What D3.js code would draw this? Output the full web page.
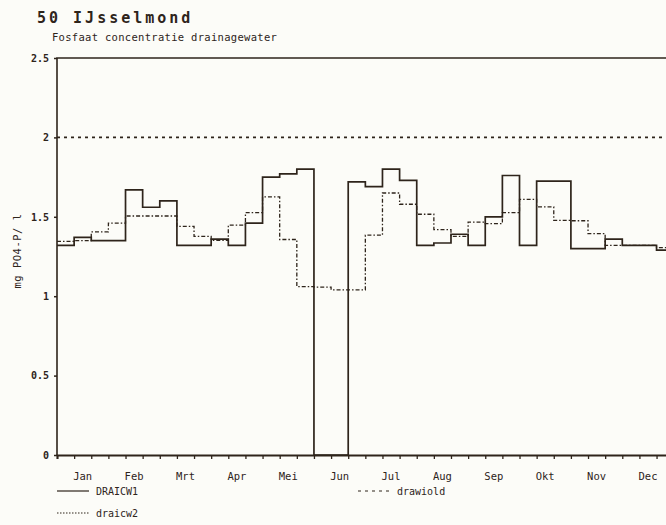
<!DOCTYPE html>
<html>
<head>
<meta charset="utf-8">
<script src="https://cdn.jsdelivr.net/npm/d3@7"></script>
<style>
  body { margin: 0; background: #fcfcf8; }
  svg { display: block; }
  text { fill: #2e241b; font-family: "DejaVu Sans Mono", monospace; }
</style>
</head>
<body>
<svg id="chart" width="666" height="525"></svg>
<script>
// month labels, one per 3 decades
const months = ["Jan", "Feb", "Mrt", "Apr", "Mei", "Jun", "Jul", "Aug", "Sep", "Okt", "Nov", "Dec"];
const yTicks = [0, 0.5, 1, 1.5, 2, 2.5];

// decade (10-day) values, mg PO4-P / l
const draicw1 = [1.32, 1.37, 1.35, 1.35, 1.67, 1.56, 1.60, 1.32, 1.32, 1.36, 1.32, 1.46,
                 1.75, 1.77, 1.80, 0, 0, 1.72, 1.69, 1.80, 1.73, 1.32, 1.335, 1.39,
                 1.32, 1.50, 1.76, 1.32, 1.725, 1.725, 1.30, 1.30, 1.36, 1.32, 1.32, 1.29];
const draicw2 = [1.345, 1.35, 1.405, 1.46, 1.505, 1.505, 1.505, 1.44, 1.377, 1.352, 1.447, 1.526,
                 1.625, 1.357, 1.06, 1.057, 1.04, 1.04, 1.384, 1.65, 1.579, 1.516, 1.419, 1.377,
                 1.467, 1.457, 1.526, 1.61, 1.562, 1.478, 1.475, 1.394, 1.32, 1.32, 1.32, 1.306];
const drawiold = 2.0;

const margin = { top: 58, left: 57, bottom: 70 };
const svg = d3.select("#chart");
const plotRight = 57 + 36 * 17.13;

const x = d3.scaleLinear().domain([0, 36]).range([margin.left, plotRight]);
const y = d3.scaleLinear().domain([0, 2.5]).range([455, margin.top]);

const ink = "#2e241b";

// titles
svg.append("text").attr("x", 37).attr("y", 23)
    .style("font-size", "15px").style("font-weight", "bold")
    .style("letter-spacing", "3px")
    .text("50 IJsselmond");
svg.append("text").attr("x", 52).attr("y", 41)
    .style("font-size", "10.5px")
    .style("letter-spacing", "0.3px")
    .text("Fosfaat concentratie drainagewater");

// frame
svg.append("path")
    .attr("d", "M" + x(0) + "," + y(0) + "V" + y(2.5) + "H" + x(36) + "V" + y(0))
    .attr("fill", "none").attr("stroke", ink).attr("stroke-width", 1.6);

// y axis ticks + labels
const yAxis = d3.axisLeft(y).tickValues(yTicks).tickSize(3)
    .tickFormat(d => d === 0 ? "0" : String(d));
const gy = svg.append("g").attr("transform", "translate(" + x(0) + ",0)").call(yAxis);
gy.select(".domain").remove();
gy.selectAll("line").attr("stroke", ink).attr("stroke-width", 1.5);
gy.selectAll("text").style("font-size", "10px").style("font-weight", "bold")
    .style("font-family", "DejaVu Sans Mono, monospace").attr("fill", ink).attr("dx", "-2");

// y axis title
svg.append("text")
    .attr("transform", "translate(21,251) rotate(-90)")
    .attr("text-anchor", "middle")
    .style("font-size", "10.5px")
    .style("letter-spacing", "0.5px")
    .text("mg PO4-P/ l");

// x axis: decade ticks
const gx = svg.append("g").attr("transform", "translate(0," + y(0) + ")")
    .call(d3.axisBottom(x).tickValues(d3.range(0, 37)).tickSize(4).tickFormat(""));
gx.select(".domain").attr("stroke", ink).attr("stroke-width", 2);
gx.selectAll("line").attr("stroke", ink).attr("stroke-width", 1.3);

// month labels
svg.append("g").selectAll("text").data(months).join("text")
    .attr("x", (d, i) => x(i * 3 + 1.5))
    .attr("y", 480)
    .attr("text-anchor", "middle")
    .style("font-size", "10.5px")
    .text(d => d);

// step lines
const step = d3.line()
    .x(d => x(d[0])).y(d => y(d[1]))
    .curve(d3.curveStepAfter);
const pts = arr => arr.map((v, i) => [i, v]).concat([[36, arr[35]]]);

svg.append("path").datum([[0, drawiold], [36, drawiold]])
    .attr("d", step).attr("fill", "none")
    .attr("stroke", ink).attr("stroke-width", 1.8).attr("stroke-dasharray", "3,4");

svg.append("path").datum(pts(draicw2))
    .attr("d", step).attr("fill", "none")
    .attr("stroke", ink).attr("stroke-width", 1.3).attr("stroke-dasharray", "4,2,1.5,2");

svg.append("path").datum(pts(draicw1))
    .attr("d", step).attr("fill", "none")
    .attr("stroke", ink).attr("stroke-width", 1.7);

// legend
const legend = [
    { name: "DRAICW1", dash: null, lx: 57, ly: 491 },
    { name: "drawiold", dash: "3,4", lx: 358, ly: 491 },
    { name: "draicw2", dash: "1.5,1.5", lx: 57, ly: 513 }
];
const lg = svg.append("g").selectAll("g").data(legend).join("g")
    .attr("transform", d => "translate(" + d.lx + "," + d.ly + ")");
lg.append("line").attr("x1", 0).attr("x2", 32).attr("y1", 0).attr("y2", 0)
    .attr("stroke", ink).attr("stroke-width", 1.2)
    .attr("stroke-dasharray", d => d.dash);
lg.append("text").attr("x", 39).attr("y", 4)
    .style("font-size", "10px")
    .text(d => d.name);
</script>
</body>
</html>
